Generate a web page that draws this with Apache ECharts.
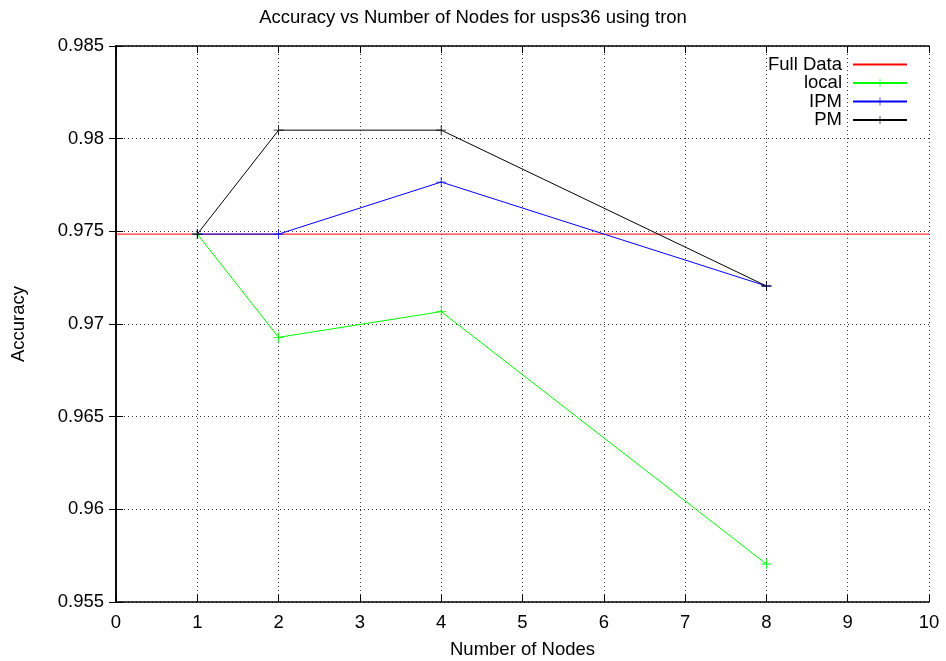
<!DOCTYPE html>
<html>
<head>
<meta charset="utf-8">
<script src="https://cdn.jsdelivr.net/npm/echarts@6/dist/echarts.min.js"></script>
<style>
  html, body { margin: 0; padding: 0; background: #fff; }
  #chart { width: 946px; height: 661px; }
</style>
</head>
<body>
<div id="chart"></div>
<script>
// values
var nodes = [1, 2, 4, 8];
var fullData = 0.97485;
var localAcc = [0.97485, 0.96928, 0.97067, 0.95705];
var ipmAcc = [0.97485, 0.97485, 0.97766, 0.97205];
var pmAcc = [0.97485, 0.98046, 0.98046, 0.97205];
var xRange = [0, 10];

var font = 'Liberation Sans, Arial, sans-serif';
var fs = 18.5;
var plus = 'path://M0,4.6h10v0.8h-10z M4.6,0h0.8v10h-0.8z';

function pairs(ys) {
	var out = [];
	for (var i = 0; i < nodes.length; i++) {
		out.push([nodes[i], ys[i]]);
	}
	return out;
}

function lineSeries(name, color, ys) {
	return {
		name: name,
		type: 'line',
		data: pairs(ys),
		symbol: plus,
		symbolSize: 10,
		showSymbol: true,
		lineStyle: { color: color, width: 1 },
		itemStyle: { color: color },
		emphasis: { disabled: true }
	};
}

var myChart = echarts.init(document.getElementById('chart'));

var tickStyle = { inside: true, length: 7, lineStyle: { color: '#000' } };
var axisText = { color: '#000', fontFamily: font, fontSize: fs };

var option = {
	backgroundColor: '#fff',
	animation: false,
	title: {
		text: 'Accuracy vs Number of Nodes for usps36 using tron',
		left: 'center',
		top: 3,
		textStyle: { fontFamily: font, fontSize: fs, fontWeight: 'normal', color: '#000' }
	},
	legend: {
		right: 33,
		top: 50,
		orient: 'vertical',
		align: 'right',
		itemGap: -0.5,
		itemWidth: 54,
		itemHeight: 10,
		textStyle: { fontFamily: font, fontSize: fs, color: '#000', padding: [0, 6, 0, 0] },
		data: [
			{ name: 'Full Data', itemStyle: { opacity: 0 } },
			'local', 'IPM', 'PM'
		]
	},
	grid: { left: 116, right: 17, top: 46, bottom: 59, outerBoundsMode: 'none' },
	xAxis: [{
		type: 'value',
		min: xRange[0],
		max: xRange[1],
		interval: 1,
		name: 'Number of Nodes',
		nameLocation: 'middle',
		nameGap: 38,
		nameTextStyle: axisText,
		axisLine: { show: true, lineStyle: { color: '#000', width: 1.5 } },
		axisTick: tickStyle,
		axisLabel: { color: '#000', fontFamily: font, fontSize: fs, margin: 11 },
		splitLine: { show: true, lineStyle: { color: '#333', type: [1, 3], width: 1 } }
	}, {
		type: 'value',
		position: 'top',
		min: xRange[0],
		max: xRange[1],
		interval: 1,
		axisLine: { show: true, lineStyle: { color: '#000', width: 1.5 } },
		axisTick: tickStyle,
		axisLabel: { show: false },
		splitLine: { show: false }
	}],
	yAxis: [{
		type: 'value',
		min: 0.955,
		max: 0.985,
		interval: 0.005,
		name: 'Accuracy',
		nameLocation: 'middle',
		nameGap: 88,
		nameRotate: 90,
		nameTextStyle: axisText,
		axisLine: { show: true, lineStyle: { color: '#000', width: 1.5 } },
		axisTick: tickStyle,
		axisLabel: {
			color: '#000', fontFamily: font, fontSize: fs, margin: 12,
			formatter: function (v) { return +v.toFixed(3) + ''; }
		},
		splitLine: { show: true, lineStyle: { color: '#333', type: [1, 3], width: 1 } }
	}, {
		type: 'value',
		position: 'right',
		min: 0.955,
		max: 0.985,
		interval: 0.005,
		axisLine: { show: true, lineStyle: { color: '#000', width: 1.5 } },
		axisTick: tickStyle,
		axisLabel: { show: false },
		splitLine: { show: false }
	}],
	series: [{
		name: 'Full Data',
		type: 'line',
		data: [[xRange[0], fullData], [xRange[1], fullData]],
		showSymbol: false,
		symbol: 'none',
		lineStyle: { color: '#ff0000', width: 1 },
		itemStyle: { color: '#ff0000' },
		emphasis: { disabled: true }
	},
		lineSeries('local', '#00ff00', localAcc),
		lineSeries('IPM', '#0000ff', ipmAcc),
		lineSeries('PM', '#000000', pmAcc)
	]
};

myChart.setOption(option);
</script>
</body>
</html>
